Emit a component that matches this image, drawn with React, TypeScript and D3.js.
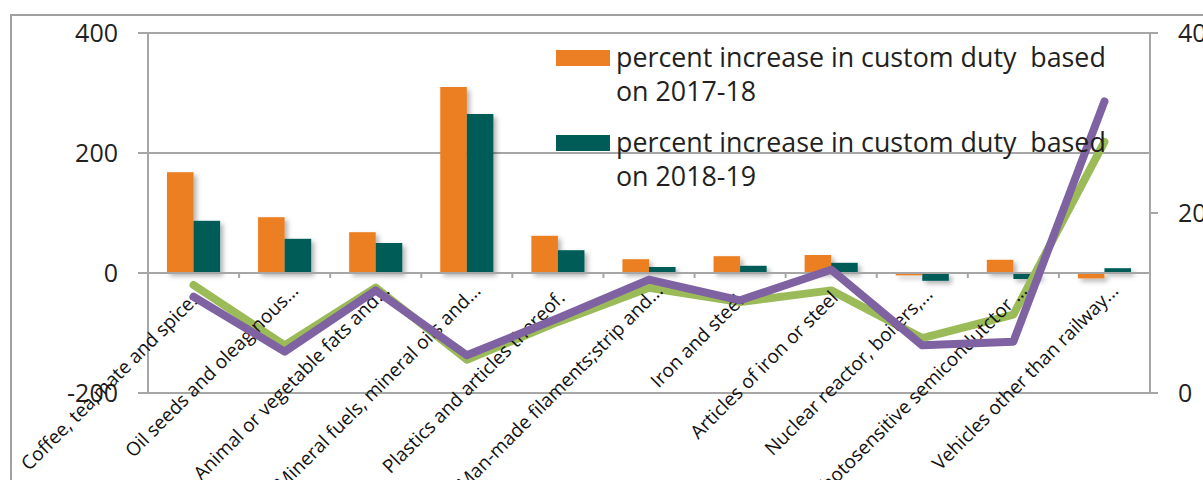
import React from "react";
import * as d3 from "d3";

const categories = [
  "Coffee, tea,mate and spices  ",
  "Oil seeds and oleaginous...",
  "Animal or vegetable fats and...",
  "Mineral fuels, mineral oils and...",
  "Plastics and articles thereof.  ",
  "Man-made filaments;strip and...",
  "Iron and steel.  ",
  "Articles of iron or steel  ",
  "Nuclear reactor, boilers,... ",
  "photosensitive semicondutctor ...",
  "Vehicles other than railway...",
];
const increase2017 = [168, 93, 68, 310, 62, 23, 28, 30, -4, 22, -9];
const increase2018 = [87, 57, 50, 265, 38, 10, 12, 17, -13, -10, 8];
const lineGreen = [12, 5.3, 11.7, 3.7, 7.9, 11.7, 10.1, 11.4, 6.1, 8.7, 27.9];
const linePurple = [10.7, 4.6, 11.4, 4.2, 8.3, 12.6, 10.3, 13.7, 5.3, 5.7, 32.4];
const leftTicks = [400, 200, 0, -200];
const rightTicks = [40, 20, 0];
const legendLabels = [
  ["percent increase in custom duty  based", "on 2017-18"],
  ["percent increase in custom duty  based", "on 2018-19"],
];

const ORANGE = "#EC7F23";
const TEAL = "#005C57";
const GREEN = "#9BBB59";
const PURPLE = "#7F62A1";
const GRID = "#A6A6A6";
const FONT = "'Open Sans', Roboto, sans-serif";

export default function App() {
  const W = 1203, H = 480;
  const left = 148, right = 1150, top = 33, bottom = 393;
  const x = d3.scaleBand<string>().domain(categories).range([left, right]);
  const yL = d3.scaleLinear().domain([-200, 400]).range([bottom, top]);
  const yR = d3.scaleLinear().domain([0, 40]).range([bottom, top]);
  const bw = x.bandwidth() / 3.43;
  const off = (x.bandwidth() - 2 * bw) / 2;
  const cx = (c: string) => (x(c) as number) + x.bandwidth() / 2;
  const line = d3.line<number>().x((_, i) => cx(categories[i])).y((d) => yR(d));
  const series = [increase2017, increase2018];
  const colors = [ORANGE, TEAL];

  return (
    <svg width={W} height={H} style={{ position: "absolute", left: 0, top: 0, background: "#fff" }} fontFamily={FONT}>
      <defs>
        <filter id="sh" x="-30%" y="-30%" width="160%" height="160%">
          <feDropShadow dx="3" dy="3" stdDeviation="2.5" floodColor="#000" floodOpacity="0.3" />
        </filter>
      </defs>
      <rect x={0} y={0} width={W} height={H} fill="#fff" />
      <rect x={11} y={15} width={W + 20} height={H + 20} fill="none" stroke="#A0A0A0" strokeWidth={2} />
      {leftTicks.map((t) => (
        <line key={"g" + t} x1={left - 10} x2={t === 400 ? right + 8 : right} y1={yL(t)} y2={yL(t)} stroke={GRID} strokeWidth={2} />
      ))}
      <line x1={left} x2={left} y1={top} y2={bottom} stroke={GRID} strokeWidth={2} />
      <line x1={right} x2={right} y1={top} y2={bottom} stroke={GRID} strokeWidth={2} />
      {rightTicks.map((t) => (
        <line key={"rt" + t} x1={right} x2={right + 8} y1={yR(t)} y2={yR(t)} stroke={GRID} strokeWidth={2} />
      ))}
      <g filter="url(#sh)">
        {series.map((s, si) =>
          s.map((v, i) => (
            <rect
              key={si + "-" + i}
              x={(x(categories[i]) as number) + off + si * bw}
              width={bw}
              y={Math.min(yL(v), yL(0))}
              height={Math.abs(yL(v) - yL(0))}
              fill={colors[si]}
            />
          ))
        )}
      </g>
      <line x1={left} x2={right} y1={yL(0)} y2={yL(0)} stroke={GRID} strokeWidth={2} />
      {categories.map((c, i) => (
        <line key={"ct" + i} x1={x(c) as number} x2={x(c) as number} y1={yL(0)} y2={yL(0) + 5} stroke={GRID} strokeWidth={2} />
      ))}
      {leftTicks.map((t) => (
        <text key={"ll" + t} x={118} y={yL(t)} dy="0.36em" textAnchor="end" fontSize={25} fill="#231F20">
          {t}
        </text>
      ))}
      {rightTicks.map((t) => (
        <text key={"rl" + t} x={1178} y={yR(t)} dy="0.36em" textAnchor="start" fontSize={25} fill="#231F20">
          {t}
        </text>
      ))}
      <path d={line(lineGreen) as string} fill="none" stroke={GREEN} strokeWidth={8} strokeLinejoin="round" strokeLinecap="round" />
      {categories.map((c, i) => (
        <text
          key={"cl" + i}
          transform={`translate(${cx(c) + 15},${yL(0) + 19}) rotate(-45)`}
          textAnchor="end"
          fontSize={19}
          fill="#111"
          style={{ whiteSpace: "pre" }}
        >
          {c}
        </text>
      ))}
      <path d={line(linePurple) as string} fill="none" stroke={PURPLE} strokeWidth={8} strokeLinejoin="round" strokeLinecap="round" />
      {legendLabels.map((lab, i) => (
        <g key={"lg" + i}>
          <rect x={556} y={50 + i * 85} width={54} height={16} fill={colors[i]} />
          <text x={616} y={67 + i * 85} fontSize={26.8} fill="#231F20" style={{ whiteSpace: "pre" }}>{lab[0]}</text>
          <text x={616} y={101 + i * 85} fontSize={26.8} fill="#231F20">{lab[1]}</text>
        </g>
      ))}
    </svg>
  );
}
